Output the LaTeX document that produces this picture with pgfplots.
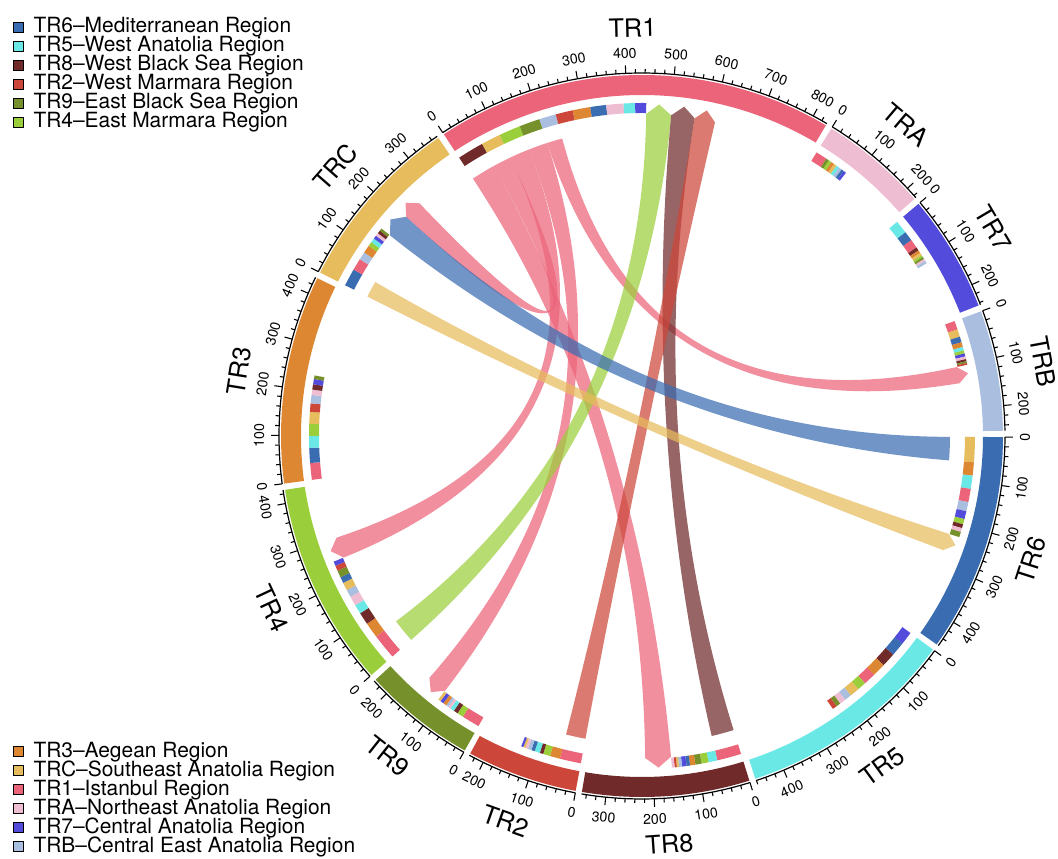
\documentclass[border=0pt]{standalone}
\usepackage{pgfplots}
\pgfplotsset{compat=1.18}
\usepackage{fontspec}
\setmainfont{TeX Gyre Heros}

% region colours
\definecolor{cTR1}{HTML}{EB6479}
\definecolor{cTRA}{HTML}{EFBDD2}
\definecolor{cTR7}{HTML}{524BDB}
\definecolor{cTRB}{HTML}{AABFDF}
\definecolor{cTR6}{HTML}{3A6CB2}
\definecolor{cTR5}{HTML}{6AE8E6}
\definecolor{cTR8}{HTML}{6F2A29}
\definecolor{cTR2}{HTML}{CD463A}
\definecolor{cTR9}{HTML}{76902B}
\definecolor{cTR4}{HTML}{9BCE3B}
\definecolor{cTR3}{HTML}{DE8733}
\definecolor{cTRC}{HTML}{E7BC5C}

\newcommand\ticklabelfont{\fontsize{10.6}{13}\selectfont}
\newcommand\namefont{\fontsize{19}{23}\selectfont}
\newcommand\legendfont{\fontsize{15.7}{18}\selectfont}

% sector / total flow / colour, clockwise from the top
\def\sectorlist{TR1/832/cTR1,TRA/226/cTRA,TR7/245/cTR7,TRB/252/cTRB,TR6/457/cTR6,TR5/461/cTR5,TR8/350/cTR8,TR2/232/cTR2,TR9/236/cTR9,TR4/428/cTR4,TR3/436/cTR3,TRC/374/cTRC}
\def\gapdeg{1}
\def\firststart{-33.3}

% outgoing flows of each sector: width / colour of the receiving region
\expandafter\def\csname flow@TR1\endcsname{60/cTR8,44/cTRC,49/cTR4,47/cTR9,38/cTRB,39/cTR2,40/cTR3,36/cTR6,39/cTRA,26/cTR5,25/cTR7}
\expandafter\def\csname flow@TRA\endcsname{26/cTR1,7/cTR9,7/cTR4,7/cTR3,7/cTRC,7/cTR5,7/cTRB,6/cTR6,6/cTR7}
\expandafter\def\csname flow@TR7\endcsname{30/cTR5,22/cTR6,20/cTR1,8/cTR8,7/cTR3,6/cTRC,5/cTR4,5/cTR9,5/cTRA,6/cTRB}
\expandafter\def\csname flow@TRB\endcsname{20/cTR1,17/cTRC,13/cTR6,11/cTR3,8/cTR5,7/cTR4,7/cTR7,6/cTRA,5/cTR8,4/cTR9,4/cTR2}
\expandafter\def\csname flow@TR6\endcsname{57/cTRC,30/cTR3,30/cTR5,30/cTR1,21/cTRB,18/cTR7,12/cTR4,9/cTR8,9/cTRA,12/cTR9}
\expandafter\def\csname flow@TR5\endcsname{30/cTR7,32/cTR6,32/cTR8,30/cTR3,28/cTR1,20/cTR4,22/cTRC,16/cTRB,14/cTRA,10/cTR9,10/cTR2}
\expandafter\def\csname flow@TR8\endcsname{55/cTR1,20/cTR5,16/cTR4,14/cTR9,12/cTR3,8/cTR6,10/cTR7,7/cTRB,5/cTRC,5/cTR2,6/cTRA}
\expandafter\def\csname flow@TR2\endcsname{48/cTR1,23/cTR3,16/cTR4,8/cTR8,12/cTR5,8/cTR6,8/cTRB,6/cTRA,5/cTRC,5/cTR7}
\expandafter\def\csname flow@TR9\endcsname{41/cTR1,14/cTR4,10/cTR8,9/cTR5,6/cTRA,6/cTRB,8/cTR3,8/cTR7,6/cTRC}
\expandafter\def\csname flow@TR4\endcsname{58/cTR1,35/cTR3,28/cTR8,21/cTR5,22/cTRA,17/cTRB,18/cTRC,14/cTR6,16/cTR9,12/cTR2,10/cTR7}
\expandafter\def\csname flow@TR3\endcsname{38/cTR1,34/cTR6,27/cTR5,27/cTR4,27/cTRC,19/cTR2,19/cTRB,12/cTRA,12/cTR8,12/cTR7,8/cTR9}
\expandafter\def\csname flow@TRC\endcsname{40/cTR6,27/cTR1,18/cTRB,18/cTR3,10/cTR4,10/cTR5,8/cTR7,7/cTRA,7/cTR8,6/cTR9}

% drawn links: from / offset / width / to / offset / colour
\def\linklist{TR1/0/60/TR8/158/cTR1,TR1/60/44/TRC/208/cTR1,TR1/104/49/TR4/251/cTR1,TR1/153/47/TR9/108/cTR1,TR1/200/38/TRB/102/cTR1,TR4/0/58/TR1/443/cTR4,TR8/0/55/TR1/501/cTR8,TR2/0/48/TR1/556/cTR2,TR6/0/57/TRC/151/cTR6,TRC/0/40/TR6/228/cTRC}

% angular layout
\xdef\total{0}
\foreach \n/\s/\c in \sectorlist {\pgfmathsetmacro\tmpv{\total+\s}\xdef\total{\tmpv}}
\pgfmathsetmacro\kscale{(360-12*\gapdeg)/\total}
\xdef\kscale{\kscale}
\xdef\cur{\firststart}
\foreach \n/\s/\c in \sectorlist {%
  \expandafter\xdef\csname start@\n\endcsname{\cur}%
  \pgfmathsetmacro\tmpv{\cur+\s*\kscale+\gapdeg}%
  \xdef\cur{\tmpv}}

% math angle of a position (sector, units)
\newcommand\angto[3]{\edef\angbase{\csname start@#2\endcsname}\pgfmathsetmacro#1{90-\angbase-\kscale*(#3)}}

% annulus piece: sector, from, to, inner r, outer r, colour, samples
\newcommand\annseg[7]{%
  \angto\pa{#1}{#2}\angto\pb{#1}{#3}%
  \fill[fill=#6] plot[domain=\pa:\pb,samples=#7,variable=\a] ({#5*cos(\a)},{#5*sin(\a)})
    -- plot[domain=\pb:\pa,samples=#7,variable=\a] ({#4*cos(\a)},{#4*sin(\a)}) -- cycle;}

% text set along the circle, turned to stay readable
\newcommand\curvedlabel[4]{%
  \pgfmathsetmacro\cw{mod(mod(90-#1,360)+360,360)}%
  \pgfmathtruncatemacro\flip{(\cw>90.5)&&(\cw<270)}%
  \ifnum\flip=1
    \pgfmathsetmacro\rot{#1+90}%
    \node[font=#3,rotate=\rot,anchor=north,inner sep=0pt] at ({#2*cos(#1)},{#2*sin(#1)}) {#4};
  \else
    \pgfmathsetmacro\rot{#1-90}%
    \node[font=#3,rotate=\rot,anchor=base,inner sep=0pt] at ({#2*cos(#1)},{#2*sin(#1)}) {#4};
  \fi}

\newcommand\sectorticks[2]{%
  \angto\pa{#1}{0}\angto\pb{#1}{#2}%
  \draw[line width=0.9pt] plot[domain=\pa:\pb,samples=60,variable=\a] ({363*cos(\a)},{363*sin(\a)});
  \edef\sz{#2}%
  \foreach \u in {0,20,...,\sz}{%
    \angto\tang{#1}{\u}%
    \pgfmathtruncatemacro\ismaj{mod(\u,100)==0}%
    \ifnum\ismaj=1 \def\rr{371}\else\def\rr{367}\fi
    \draw[line width=0.8pt] ({363*cos(\tang)},{363*sin(\tang)}) -- ({\rr*cos(\tang)},{\rr*sin(\tang)});
    \ifnum\ismaj=1 \curvedlabel{\tang}{378}{\ticklabelfont}{\u}\fi
  }}

\newcommand\flowbar[2]{%
  \xdef\barpos{0}%
  \foreach \w/\segc in #2 {%
    \pgfmathsetmacro\barend{\barpos+\w}%
    \annseg{#1}{\barpos}{\barend}{323}{333}{\segc}{8}%
    \xdef\barpos{\barend}}}

\def\rsrc{308}\def\rtgt{322}\def\rtip{332}
\newcommand\chord[6]{%
  \angto\chA{#1}{#2}\angto\chB{#1}{(#2)+(#3)}%
  \angto\chC{#4}{#5}\angto\chD{#4}{(#5)+(#3)}%
  \pgfmathsetmacro\chM{(\chC+\chD)/2}%
  \fill[fill=#6,fill opacity=0.72]
    plot[domain=\chA:\chB,samples=16,variable=\a] ({\rsrc*cos(\a)},{\rsrc*sin(\a)})
    .. controls ({\rsrc*cos(\chB)/3},{\rsrc*sin(\chB)/3}) and ({\rtgt*cos(\chC)/3},{\rtgt*sin(\chC)/3})
    .. ({\rtgt*cos(\chC)},{\rtgt*sin(\chC)})
    -- ({\rtip*cos(\chM)},{\rtip*sin(\chM)})
    -- ({\rtgt*cos(\chD)},{\rtgt*sin(\chD)})
    .. controls ({\rtgt*cos(\chD)/3},{\rtgt*sin(\chD)/3}) and ({\rsrc*cos(\chA)/3},{\rsrc*sin(\chA)/3})
    .. cycle;}

\pgfplotsset{
  chordframe/.style={
    scale only axis, width=793.5pt, height=644.25pt,
    xmin=-642, xmax=416, ymin=-423, ymax=436,
    hide axis, clip=false,
    legend cell align=left,
    legend image code/.code={\fill[##1] (0pt,-3.75pt) rectangle (7.5pt,3.75pt);},
    legend style={draw=none, fill=none, inner sep=0pt, outer sep=0pt,
      font=\legendfont, row sep=0pt, anchor=north west,
      nodes={inner sep=0pt, text height=11.3pt, text depth=2.95pt},
      /tikz/every odd column/.style={column sep=7.7pt}},
  }
}

\begin{document}
\begin{tikzpicture}
\begin{axis}[chordframe, legend style={at={(axis cs:-629.3,418.5)}}]
\addlegendimage{fill=cTR6}\addlegendentry{TR6--Mediterranean Region}
\addlegendimage{fill=cTR5}\addlegendentry{TR5--West Anatolia Region}
\addlegendimage{fill=cTR8}\addlegendentry{TR8--West Black Sea Region}
\addlegendimage{fill=cTR2}\addlegendentry{TR2--West Marmara Region}
\addlegendimage{fill=cTR9}\addlegendentry{TR9--East Black Sea Region}
\addlegendimage{fill=cTR4}\addlegendentry{TR4--East Marmara Region}
\pgfplotsextra{
  \foreach \n/\s/\c in \sectorlist {%
    \annseg{\n}{0}{\s}{341}{361}{\c}{60}%
    \sectorticks{\n}{\s}%
    \edef\lst{\csname flow@\n\endcsname}%
    \flowbar{\n}{\lst}%
    \angto\tang{\n}{\s/2}%
    \curvedlabel{\tang}{399}{\namefont}{\n}%
  }
  \foreach \fs/\fo/\wd/\ts/\tof/\cl in \linklist {%
    \chord{\fs}{\fo}{\wd}{\ts}{\tof}{\cl}%
  }
}
\end{axis}
\begin{axis}[chordframe, legend style={at={(axis cs:-629.3,-306.2)}}]
\addlegendimage{fill=cTR3}\addlegendentry{TR3--Aegean Region}
\addlegendimage{fill=cTRC}\addlegendentry{TRC--Southeast Anatolia Region}
\addlegendimage{fill=cTR1}\addlegendentry{TR1--Istanbul Region}
\addlegendimage{fill=cTRA}\addlegendentry{TRA--Northeast Anatolia Region}
\addlegendimage{fill=cTR7}\addlegendentry{TR7--Central Anatolia Region}
\addlegendimage{fill=cTRB}\addlegendentry{TRB--Central East Anatolia Region}
\end{axis}
\pgfresetboundingbox
\path[use as bounding box] (current axis.south west) rectangle (current axis.north east);
\end{tikzpicture}
\end{document}
